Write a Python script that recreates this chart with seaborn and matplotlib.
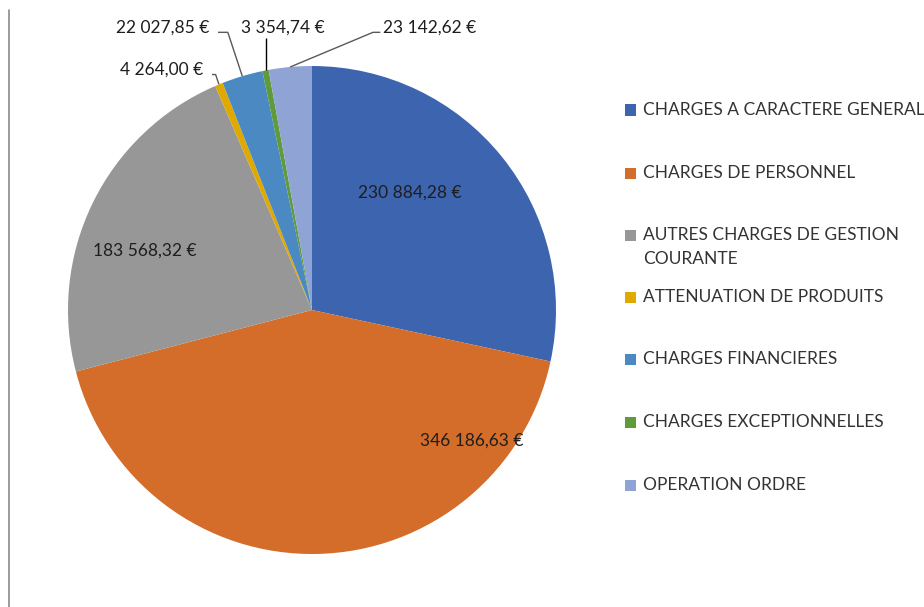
import matplotlib
matplotlib.use("Agg")
import matplotlib.pyplot as plt
import seaborn as sns
import numpy as np
from matplotlib.lines import Line2D
from matplotlib.patches import Rectangle

sns.set_theme(style="white")
plt.rcParams['font.family'] = ['Lato', 'DejaVu Sans']

categories = ["CHARGES A CARACTERE GENERAL", "CHARGES DE PERSONNEL",
              "AUTRES CHARGES DE GESTION\nCOURANTE", "ATTENUATION DE PRODUITS",
              "CHARGES FINANCIERES", "CHARGES EXCEPTIONNELLES", "OPERATION ORDRE"]
values = [230884.28, 346186.63, 183568.32, 4264.00, 22027.85, 3354.74, 23142.62]
colors = ["#3D64AE", "#D46D29", "#979797", "#E0A900", "#4A89C2", "#5F9B3D", "#8FA3D4"]


def fmt(v):
    s = f"{v:,.2f}".replace(",", " ").replace(".", ",")
    return s + " €"


W, H = 924, 607
fig = plt.figure(figsize=(W / 100, H / 100), dpi=100)
cx, cy, r = 312, 310, 244
ax = fig.add_axes([(cx - r) / W, (H - cy - r) / H, 2 * r / W, 2 * r / H])
wedges, _ = ax.pie(values, colors=colors, startangle=90, counterclock=False,
                   radius=1, wedgeprops=dict(linewidth=0))
ax.set_xlim(-1, 1)
ax.set_ylim(-1, 1)
ax.set_aspect('equal')
ax.axis('off')

txt_color = "#1e1e1e"
fs = 12.5

# inside labels (index -> position in data coords)
inside = {0: (0.40, 0.48), 1: (0.655, -0.535), 2: (-0.685, 0.245)}
for i, (x, y) in inside.items():
    ax.text(x, y, fmt(values[i]), ha='center', va='center', fontsize=fs, color=txt_color)

# outside labels: index -> (text anchor x, y, ha, elbow x)
outside = {
    3: (-0.445, 0.985, 'right', -0.395),
    4: (-0.420, 1.158, 'right', -0.345),
    5: (-0.120, 1.158, 'center', None),
    6: (0.290, 1.158, 'left', 0.250),
}
for i, (tx, ty, ha, ex) in outside.items():
    w = wedges[i]
    mid = np.deg2rad((w.theta1 + w.theta2) / 2)
    px, py = np.cos(mid), np.sin(mid)
    ax.text(tx, ty, fmt(values[i]), ha=ha, va='center', fontsize=fs, color=txt_color,
            clip_on=False)
    if ex is None:
        xs, ys = [px, px], [ty - 0.045, py]
        lc = "#000000"
    else:
        ly = ty - 0.02
        if ha == 'right':
            xs = [tx + 0.035, ex, px]
        else:
            xs = [tx - 0.01, ex, px]
        ys = [ly, ly, py]
        lc = "#595959"
    ax.plot(xs, ys, color=lc, lw=1.0, clip_on=False, solid_capstyle='butt')

# legend drawn manually
row_y = [110, 173, 235, 297, 359, 422, 485]
for cat, col, yy in zip(categories, colors, row_y):
    fig.add_artist(Rectangle((625 / W, (H - yy - 5.5) / H), 11 / W, 11 / H,
                             transform=fig.transFigure, facecolor=col, edgecolor='none'))
    if '\n' in cat:
        fig.text(643 / W, (H - yy + 8) / H, cat, ha='left', va='top',
                 fontsize=fs, color="#333333", linespacing=1.65)
    else:
        fig.text(643 / W, (H - yy) / H, cat, ha='left', va='center',
                 fontsize=fs, color="#333333")

# left border line
fig.add_artist(Line2D([8.5 / W, 8.5 / W], [0, (H - 10) / H], transform=fig.transFigure,
                      color="#8a8a8a", lw=1.2))

fig.savefig("out.png", dpi=100, facecolor='white')
